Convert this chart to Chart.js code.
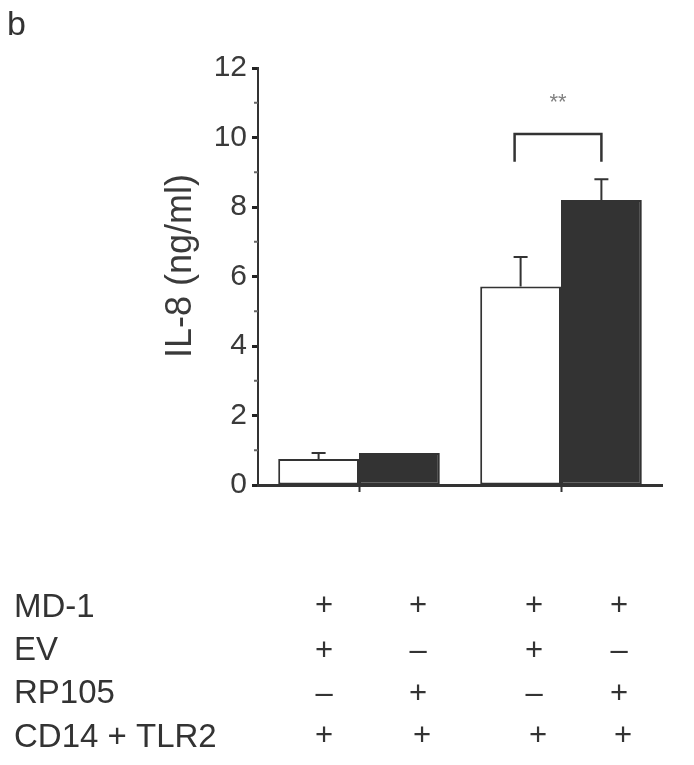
<!DOCTYPE html>
<html>
<head>
<meta charset="utf-8">
<script src="https://cdn.jsdelivr.net/npm/chart.js@4.4.1/dist/chart.umd.min.js"></script>
<style>
  html, body { margin: 0; padding: 0; background: #fff; }
  #wrap { width: 694px; height: 765px; position: relative; }
</style>
</head>
<body>
<div id="wrap"><canvas id="il8Chart"></canvas></div>
<script>
// groups on the x axis
const groups = ["", ""];
// EV (white) and RP105 (black) bars, ng/ml
const evValues = [0.75, 5.71];
const rp105Values = [0.92, 8.2];
// upper error bars
const evErrors = [0.17, 0.85];
const rp105Errors = [0, 0.6];
const yTicks = [0, 2, 4, 6, 8, 10, 12];
const minorTicks = [1, 3, 5, 7, 9, 11];

// condition table below the chart
const rowLabels = ["MD-1", "EV", "RP105", "CD14 + TLR2"];
const rowSigns = [
  ["+", "+", "+", "+"],
  ["+", "\u2013", "+", "\u2013"],
  ["\u2013", "+", "\u2013", "+"],
  ["+", "+", "+", "+"],
];

const ink = "#333333";
const fontFam = "'Liberation Sans', Arial, sans-serif";

const extrasPlugin = {
  id: "extras",
  afterDatasetsDraw(chart) {
    const ctx = chart.ctx;
    const y = chart.scales.y;
    const errs = [evErrors, rp105Errors];
    ctx.save();
    ctx.strokeStyle = ink;
    ctx.lineWidth = 2;
    // error bars (upward only)
    chart.data.datasets.forEach((ds, di) => {
      const meta = chart.getDatasetMeta(di);
      meta.data.forEach((bar, i) => {
        const e = errs[di][i];
        if (!e) return;
        const top = y.getPixelForValue(ds.data[i] + e);
        ctx.beginPath();
        ctx.moveTo(bar.x, bar.y);
        ctx.lineTo(bar.x, top);
        ctx.moveTo(bar.x - 7, top);
        ctx.lineTo(bar.x + 7, top);
        ctx.stroke();
      });
    });

    // minor ticks on y axis
    const left = chart.chartArea.left;
    ctx.lineWidth = 2;
    ctx.strokeStyle = "#666";
    minorTicks.forEach((v) => {
      const py = y.getPixelForValue(v);
      ctx.beginPath();
      ctx.moveTo(left - 4, py);
      ctx.lineTo(left, py);
      ctx.stroke();
    });

    // significance bracket between the two bars of the second group
    const b1 = chart.getDatasetMeta(0).data[1];
    const b2 = chart.getDatasetMeta(1).data[1];
    const yTop = y.getPixelForValue(10.1);
    const yLeg = y.getPixelForValue(9.3);
    ctx.strokeStyle = ink;
    ctx.lineWidth = 2.5;
    ctx.beginPath();
    ctx.moveTo(b1.x - 6, yLeg);
    ctx.lineTo(b1.x - 6, yTop);
    ctx.lineTo(b2.x, yTop);
    ctx.lineTo(b2.x, yLeg);
    ctx.stroke();
    ctx.fillStyle = "#808080";
    ctx.font = "22px " + fontFam;
    ctx.textAlign = "center";
    ctx.textBaseline = "middle";
    ctx.fillText("**", (b1.x - 6 + b2.x) / 2, y.getPixelForValue(11.0));
    ctx.restore();
  },
  afterDraw(chart) {
    const ctx = chart.ctx;
    ctx.save();
    ctx.fillStyle = ink;
    ctx.textBaseline = "alphabetic";
    // panel letter
    ctx.font = "34px " + fontFam;
    ctx.textAlign = "left";
    ctx.fillText("b", 7, 35);

    // y axis title
    ctx.save();
    ctx.fillStyle = "#3a3a3a";
    ctx.translate(181, 266);
    ctx.rotate(-Math.PI / 2);
    ctx.font = "36px " + fontFam;
    ctx.textAlign = "center";
    ctx.textBaseline = "middle";
    ctx.fillText("IL-8 (ng/ml)", 0, 0);
    ctx.restore();

    // condition table
    const baselines = [617, 660, 703, 747];
    const signCenters = [606, 651, 694, 736];
    const cols = [[324, 418, 534, 619], [324, 418, 534, 619], [324, 418, 534, 619], [324, 422, 538, 623]];
    rowLabels.forEach((lab, r) => {
      ctx.font = "33px " + fontFam;
      ctx.textAlign = "left";
      ctx.textBaseline = "alphabetic";
      ctx.fillText(lab, 14, baselines[r]);
      ctx.font = "31px " + fontFam;
      ctx.textAlign = "center";
      ctx.textBaseline = "middle";
      rowSigns[r].forEach((s, c) => {
        ctx.fillText(s, cols[r][c], signCenters[r]);
      });
    });
    ctx.restore();
  },
};

const ctx = document.getElementById("il8Chart").getContext("2d");
new Chart(ctx, {
  type: "bar",
  data: {
    labels: groups,
    datasets: [
      {
        label: "EV",
        data: evValues,
        backgroundColor: "#ffffff",
        borderColor: ink,
        borderWidth: 2,
        borderSkipped: false,
      },
      {
        label: "RP105",
        data: rp105Values,
        backgroundColor: ink,
        borderColor: ink,
        borderWidth: 2,
        borderSkipped: false,
      },
    ],
  },
  options: {
    responsive: true,
    maintainAspectRatio: false,
    animation: false,
    layout: { padding: { top: 68, right: 32, bottom: 0, left: 0 } },
    datasets: { bar: { categoryPercentage: 0.8, barPercentage: 1.0 } },
    plugins: {
      legend: { display: false },
      tooltip: { enabled: false },
    },
    scales: {
      x: {
        grid: {
          drawOnChartArea: false,
          drawTicks: true,
          offset: false,
          tickLength: 7,
          tickWidth: 2,
          tickColor: ink,
        },
        border: { color: ink, width: 3 },
        ticks: { display: true, font: { size: 1 } },
        afterFit(scale) {
          scale.height = 280;
        },
      },
      y: {
        min: 0,
        max: 12,
        afterBuildTicks(scale) {
          scale.ticks = yTicks.map((v) => ({ value: v }));
        },
        grid: {
          drawOnChartArea: false,
          drawTicks: true,
          tickLength: 6,
          tickWidth: 3,
          tickColor: "#222",
        },
        border: { color: ink, width: 2 },
        ticks: {
          padding: 5,
          color: "#3a3a3a",
          font: { family: fontFam, size: 30 },
        },
        afterFit(scale) {
          scale.width = 258;
        },
      },
    },
  },
  plugins: [extrasPlugin],
});
</script>
</body>
</html>
